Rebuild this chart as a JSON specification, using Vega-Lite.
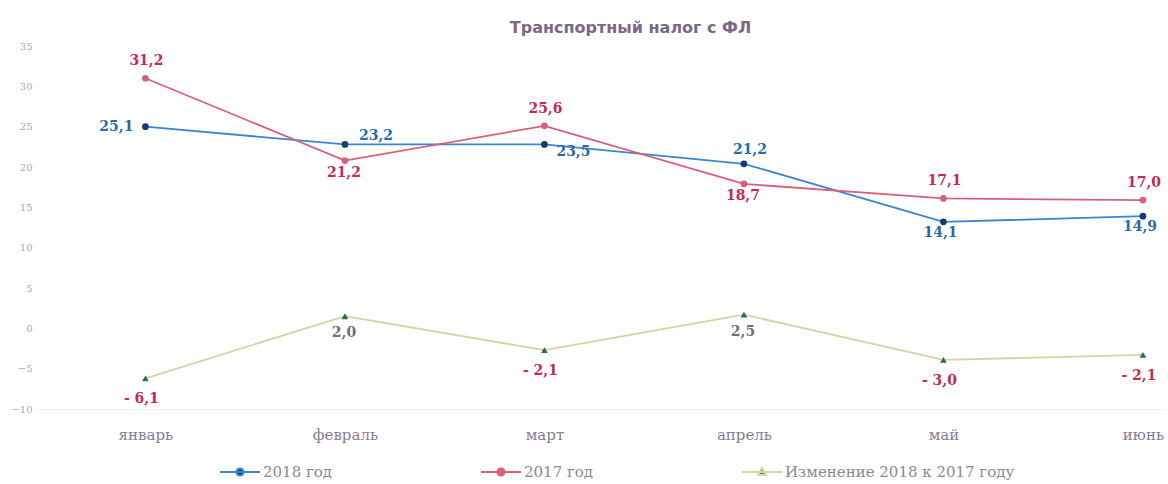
{
  "$schema": "https://vega.github.io/schema/vega-lite/v6.json",
  "autosize": {"type": "none"},
  "width": 1125,
  "height": 363,
  "padding": {"left": 40, "top": 46, "right": 3, "bottom": 75},
  "background": "white",
  "title": {"text": "Транспортный налог с ФЛ", "font": "DejaVu Sans", "fontSize": 16, "fontWeight": "bold", "color": "#7a6a80", "anchor": "middle", "dx": 28, "offset": 5},
  "config": {"view": {"stroke": null}, "font": "DejaVu Serif"},
  "data": {
    "values": [
      {"month": "январь", "series": "2018 год", "value": 25.0, "label": "25,1"},
      {"month": "февраль", "series": "2018 год", "value": 22.8, "label": "23,2"},
      {"month": "март", "series": "2018 год", "value": 22.8, "label": "23,5"},
      {"month": "апрель", "series": "2018 год", "value": 20.4, "label": "21,2"},
      {"month": "май", "series": "2018 год", "value": 13.2, "label": "14,1"},
      {"month": "июнь", "series": "2018 год", "value": 13.9, "label": "14,9"},
      {"month": "январь", "series": "2017 год", "value": 31.0, "label": "31,2"},
      {"month": "февраль", "series": "2017 год", "value": 20.8, "label": "21,2"},
      {"month": "март", "series": "2017 год", "value": 25.1, "label": "25,6"},
      {"month": "апрель", "series": "2017 год", "value": 17.9, "label": "18,7"},
      {"month": "май", "series": "2017 год", "value": 16.1, "label": "17,1"},
      {"month": "июнь", "series": "2017 год", "value": 15.9, "label": "17,0"},
      {"month": "январь", "series": "Изменение 2018 к 2017 году", "value": -6.2, "label": "- 6,1"},
      {"month": "февраль", "series": "Изменение 2018 к 2017 году", "value": 1.5, "label": "2,0"},
      {"month": "март", "series": "Изменение 2018 к 2017 году", "value": -2.7, "label": "- 2,1"},
      {"month": "апрель", "series": "Изменение 2018 к 2017 году", "value": 1.7, "label": "2,5"},
      {"month": "май", "series": "Изменение 2018 к 2017 году", "value": -3.9, "label": "- 3,0"},
      {"month": "июнь", "series": "Изменение 2018 к 2017 году", "value": -3.3, "label": "- 2,1"}
    ]
  },
  "encoding": {
    "x": {
      "field": "month", "type": "nominal",
      "sort": ["январь", "февраль", "март", "апрель", "май", "июнь"],
      "scale": {"type": "point", "padding": 0.3195, "align": 0.827},
      "axis": {"title": null, "labelAngle": 0, "ticks": false, "domain": true, "domainColor": "#f0f0f0", "grid": false, "labelPadding": 18, "labelFont": "DejaVu Serif", "labelFontSize": 15, "labelColor": "#8a7a90"}
    },
    "y": {
      "field": "value", "type": "quantitative",
      "scale": {"domain": [-10, 35], "nice": false, "zero": false},
      "axis": {"title": null, "values": [-10, -5, 0, 5, 10, 15, 20, 25, 30, 35], "ticks": false, "domain": false, "grid": false, "labelPadding": 8, "labelFont": "DejaVu Serif", "labelFontSize": 10, "labelColor": "#a8a8a8"}
    }
  },
  "layer": [
    {
      "mark": {"type": "line", "strokeWidth": 1.8},
      "encoding": {
        "stroke": {
          "field": "series", "type": "nominal",
          "scale": {"domain": ["2018 год", "2017 год", "Изменение 2018 к 2017 году"], "range": ["#3a86d0", "#d9607a", "#d8d2a0"]},
          "legend": {
            "title": null, "orient": "none", "legendX": 179, "legendY": 405, "direction": "horizontal",
            "columnPadding": 144, "labelFont": "DejaVu Serif", "labelFontSize": 15, "labelColor": "#8a8a8a",
            "labelOffset": 2, "symbolSize": 1600, "symbolStrokeWidth": 2, "labelLimit": 400, "padding": 0,
            "symbolType": "M-1,0H1M-0.18,0A0.18,0.18 0 1,0 0.18,0A0.18,0.18 0 1,0 -0.18,0Z",
            "encode": {
              "symbols": {
                "update": {
                  "shape": {"signal": "datum.value === 'Изменение 2018 к 2017 году' ? 'M-1,0H1M-0.2,0.14L0,-0.2L0.2,0.14Z' : 'M-1,0H1M-0.18,0A0.18,0.18 0 1,0 0.18,0A0.18,0.18 0 1,0 -0.18,0Z'"},
                  "fill": {"signal": "datum.value === '2018 год' ? '#123d6e' : (datum.value === '2017 год' ? '#d9607a' : '#1e6e62')"},
                  "fillOpacity": {"value": 1},
                  "strokeWidth": {"value": 2}
                }
              }
            }
          }
        }
      }
    },
    {
      "transform": [{"filter": "datum.series !== 'Изменение 2018 к 2017 году'"}],
      "mark": {"type": "point", "shape": "circle", "filled": true, "opacity": 1, "size": 45},
      "encoding": {
        "fill": {
          "field": "series", "type": "nominal",
          "scale": {"domain": ["2018 год", "2017 год", "Изменение 2018 к 2017 году"], "range": ["#123d6e", "#d9607a", "#1e6e62"]},
          "legend": null
        }
      }
    },
    {
      "transform": [{"filter": "datum.series === 'Изменение 2018 к 2017 году'"}],
      "mark": {"type": "point", "shape": "triangle-up", "filled": true, "opacity": 1, "size": 45, "fill": "#1e6e62"},
      "encoding": {}
    },
    {
      "transform": [{"filter": "datum.series === '2018 год' && datum.month === 'январь'"}],
      "mark": {"type": "text", "align": "right", "baseline": "middle", "dx": -12, "dy": 0, "font": "DejaVu Serif", "fontSize": 14, "fontWeight": "bold", "color": "#2a6aa8"},
      "encoding": {"text": {"field": "label"}}
    },
    {
      "transform": [{"filter": "datum.series === '2018 год' && datum.month === 'февраль'"}],
      "mark": {"type": "text", "align": "center", "baseline": "middle", "dx": 31, "dy": -8, "font": "DejaVu Serif", "fontSize": 14, "fontWeight": "bold", "color": "#2a6aa8"},
      "encoding": {"text": {"field": "label"}}
    },
    {
      "transform": [{"filter": "datum.series === '2018 год' && datum.month === 'март'"}],
      "mark": {"type": "text", "align": "center", "baseline": "middle", "dx": 29, "dy": 8, "font": "DejaVu Serif", "fontSize": 14, "fontWeight": "bold", "color": "#2a6aa8"},
      "encoding": {"text": {"field": "label"}}
    },
    {
      "transform": [{"filter": "datum.series === '2018 год' && datum.month === 'апрель'"}],
      "mark": {"type": "text", "align": "center", "baseline": "middle", "dx": 6, "dy": -14, "font": "DejaVu Serif", "fontSize": 14, "fontWeight": "bold", "color": "#2a6aa8"},
      "encoding": {"text": {"field": "label"}}
    },
    {
      "transform": [{"filter": "datum.series === '2018 год' && (datum.month === 'май' || datum.month === 'июнь')"}],
      "mark": {"type": "text", "align": "center", "baseline": "middle", "dx": -3, "dy": 11, "font": "DejaVu Serif", "fontSize": 14, "fontWeight": "bold", "color": "#2a6aa8"},
      "encoding": {"text": {"field": "label"}}
    },
    {
      "transform": [{"filter": "datum.series === '2017 год' && (datum.month === 'февраль' || datum.month === 'апрель')"}],
      "mark": {"type": "text", "align": "center", "baseline": "middle", "dx": -1, "dy": 12, "font": "DejaVu Serif", "fontSize": 14, "fontWeight": "bold", "color": "#c8284e"},
      "encoding": {"text": {"field": "label"}}
    },
    {
      "transform": [{"filter": "datum.series === '2017 год' && datum.month !== 'февраль' && datum.month !== 'апрель'"}],
      "mark": {"type": "text", "align": "center", "baseline": "middle", "dx": 1, "dy": -17, "font": "DejaVu Serif", "fontSize": 14, "fontWeight": "bold", "color": "#c8284e"},
      "encoding": {"text": {"field": "label"}}
    },
    {
      "transform": [{"filter": "datum.series === 'Изменение 2018 к 2017 году' && datum.value >= 0"}],
      "mark": {"type": "text", "align": "center", "baseline": "middle", "dx": -1, "dy": 17, "font": "DejaVu Serif", "fontSize": 14, "fontWeight": "bold", "color": "#707070"},
      "encoding": {"text": {"field": "label"}}
    },
    {
      "transform": [{"filter": "datum.series === 'Изменение 2018 к 2017 году' && datum.value < 0"}],
      "mark": {"type": "text", "align": "center", "baseline": "middle", "dx": -4, "dy": 21, "font": "DejaVu Serif", "fontSize": 14, "fontWeight": "bold", "color": "#c8284e"},
      "encoding": {"text": {"field": "label"}}
    }
  ]
}
